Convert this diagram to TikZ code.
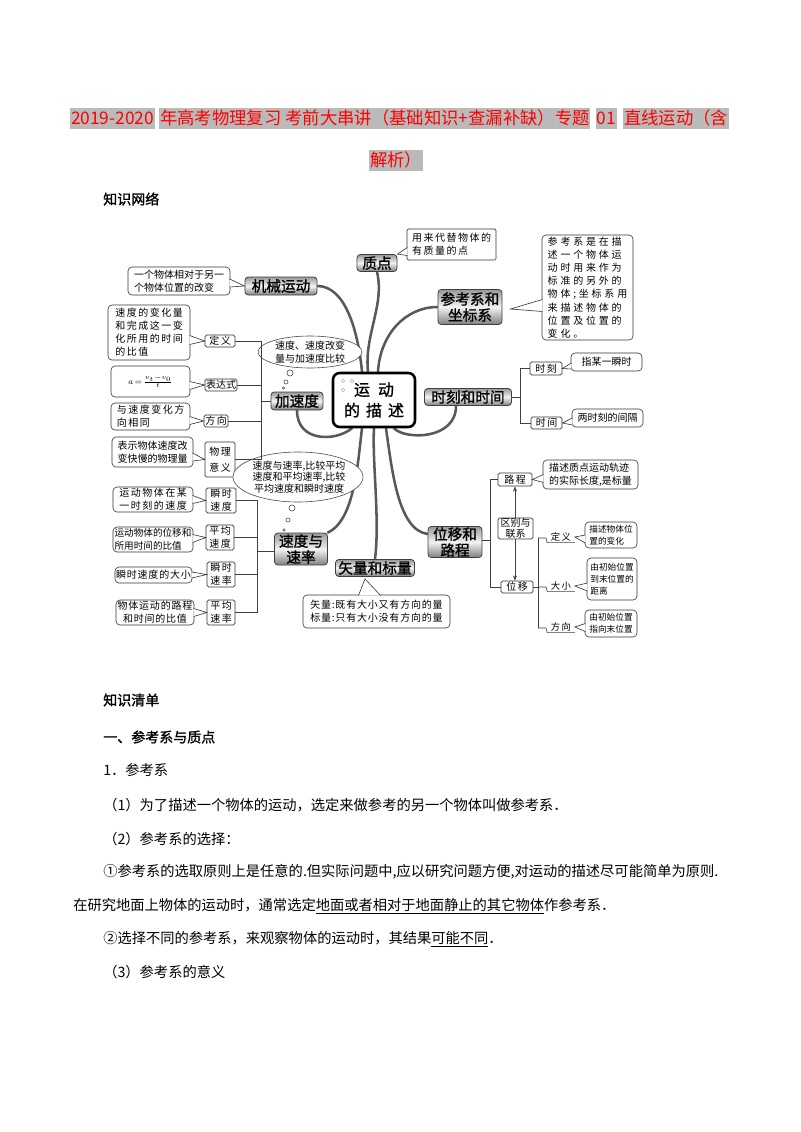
\documentclass[tikz,border=0pt]{standalone}
\usepackage{fontspec}
\setmainfont{Noto Sans CJK SC}
\newfontfamily\cjkB{Noto Sans CJK SC}[FakeBold=1.2]
\newfontfamily\cjkS{Noto Sans CJK SC}[LetterSpace=15]
\newfontfamily\cjkT{Noto Sans CJK SC}[LetterSpace=8]
\newfontfamily\cjkW{Noto Sans CJK SC}[LetterSpace=28]
\usetikzlibrary{calc,backgrounds,arrows.meta,shapes.geometric}
\newcommand\fTt{\fontsize{13}{16}\selectfont}
\newcommand\fSm{\cjkS\fontsize{7.5}{9.8}\selectfont}
\newcommand\fSt{\cjkT\fontsize{7.5}{9.8}\selectfont}
\newcommand\fSn{\fontsize{7.5}{9.8}\selectfont}
\newcommand\fTn{\fontsize{6.5}{8.8}\selectfont}
\newcommand\fW{\cjkW\fontsize{7.5}{9.9}\selectfont}
\newcommand\fTp{\cjkB\fontsize{11}{12}\selectfont}
\newcommand\fCt{\cjkB\fontsize{12}{15.5}\selectfont}
\newcommand\fBd{\fontsize{10.7}{13}\selectfont}
\newcommand\fHd{\cjkB\fontsize{10.5}{13}\selectfont}
\newcommand\tailE[4]{\filldraw[tail] ($(#1.east)+(-0.7,#2)$) -- (#4) -- ($(#1.east)+(-0.7,#3)$);}
\newcommand\tailW[4]{\filldraw[tail] ($(#1.west)+(0.7,#2)$) -- (#4) -- ($(#1.west)+(0.7,#3)$);}
\newcommand\tailN[4]{\filldraw[tail] ($(#1.north)+(#2,0.7)$) -- (#4) -- ($(#1.north)+(#3,0.7)$);}
\begin{document}
\begin{tikzpicture}[x=0.75pt,y=-0.75pt,
  sz/.style 2 args={minimum width=#1*0.75pt, minimum height=#2*0.75pt},
  ttl/.style={fill=black!27, text=red, inner xsep=0.6pt, inner ysep=0pt, text height=12pt, text depth=3.5pt, font=\fTt, anchor=base west},
  topic/.style={draw=black!75, line width=0.6pt, rounded corners=2.5pt, top color=black!40, bottom color=black!50, middle color=black!5, font=\fTp, align=center, inner sep=0pt},
  note/.style={draw=black!80, line width=0.45pt, rounded corners=3pt, fill=white, font=\fSm, align=left, inner sep=0pt},
  lbl/.style={draw=black!80, line width=0.45pt, rounded corners=1.2pt, fill=white, font=\fSm, align=center, inner sep=0pt},
  ul/.style={font=\cjkS\fontsize{7}{8}\selectfont, inner xsep=0pt, inner ysep=0.8pt, minimum width=27*0.75pt},
  link/.style={draw=black!75, line width=0.45pt},
  tail/.style={fill=white, draw=black!80, line width=0.45pt},
  branch/.style={draw=black!65, line width=1.9pt, line cap=round},
  bubble/.style={draw=black!70, line width=0.45pt, fill=white},
  txt/.style={inner sep=0pt, anchor=west, font=\fBd}]
\useasboundingbox (0,0) rectangle (800,1132);

% ---------- title ----------
\node[ttl] (t1) at (70,124) {2019-2020};
\node[ttl] (t2) at ($(t1.base east)+(4,0)$) {年高考物理复习 考前大串讲（基础知识+查漏补缺）专题};
\node[ttl] (t3) at ($(t2.base east)+(5,0)$) {01};
\node[ttl] (t4) at ($(t3.base east)+(6,0)$) {直线运动（含};
\node[ttl, anchor=base] (t5) at (396,166) {解析）};

\node[txt, font=\fHd] (h1) at (103,199) {知识网络};

% ---------- mind map: topics ----------
\node[topic, sz={40}{17}] (zhidian) at (377,263) {质点};
\node[topic, sz={64}{35}] (cankao) at (470,307) {参考系和\\坐标系};
\node[topic, sz={72}{18}] (jixie) at (281,286) {机械运动};
\node[topic, sz={52}{18}] (jiasudu) at (297,401) {加速度};
\node[topic, sz={87}{17}] (shike) at (468,397) {时刻和时间};
\node[topic, sz={53}{32}] (sudu) at (301,549) {速度与\\速率};
\node[topic, sz={79}{17}] (shiliang) at (375,568) {矢量和标量};
\node[topic, sz={54}{31}] (weiyi) at (455,542) {位移和\\路程};

\node[draw=black, line width=1.9pt, rounded corners=5pt, fill=white, sz={82}{54}, inner sep=0pt, align=center, font=\fCt] (ctr) at (374,400) {运\hspace{6pt}动\\的\hspace{4.5pt}描\hspace{4.5pt}述};
\draw[black!30, line width=0.4pt] (343,381) circle (1.3pt) (352,381) circle (1.3pt) (343,390) circle (1.3pt);

% ---------- left notes ----------
\node[note, sz={102}{28}, font=\fSn] (nJx) at (179,281) {一个物体相对于另一\\个物体位置的改变};
\node[note, sz={82}{55}] (nDy) at (149,332.5) {速度的变化量\\和完成这一变\\化所用的时间\\的比值};
\node[note, sz={79}{31}] (nBd) at (150.5,381.5) {\fontsize{6}{7}\selectfont $a\!=\!\frac{v_t-v_0}{t}$};
\node[note, sz={79}{27}] (nFx) at (150.5,416.5) {与速度变化方\\向相同};
\node[note, sz={81}{30}, font=\fSn] (nYy) at (152.5,452) {表示物体速度改\\变快慢的物理量};
\node[note, sz={80}{25}] (nSss) at (153,499.5) {运动物体在某\\一时刻的速度};
\node[note, sz={80}{25}, font=\fontsize{7.2}{9.6}\selectfont] (nPjsd) at (153,539.5) {运动物体的位移和\\所用时间的比值};
\node[note, sz={77}{16}, font=\fSt] (nSssl) at (153.5,575) {瞬时速度的大小};
\node[note, sz={78}{25}, font=\fSt, align=center] (nPjsl) at (155,612.5) {物体运动的路程\\和时间的比值};

\node[lbl, sz={30}{12}] (lDy) at (220,341) {定义};
\node[lbl, sz={32}{12}, font=\fSn] (lBd) at (221,385) {表达式};
\node[lbl, sz={24}{12}] (lFx) at (216,421) {方向};
\node[lbl, sz={30}{35}] (lYy) at (220,459.5) {物理\\[2pt]意义};
\node[lbl, sz={30}{25}] (lSss) at (221,500.5) {瞬时\\速度};
\node[lbl, sz={28}{25}] (lPjsd) at (220,537.5) {平均\\速度};
\node[lbl, sz={28}{25}] (lSssl) at (221,574.5) {瞬时\\速率};
\node[lbl, sz={28}{25}] (lPjsl) at (221,612.5) {平均\\速率};

% thought bubbles
\node[bubble, ellipse, sz={104}{32}, inner sep=0pt] (bA) at (310,352) {};
\node[font=\fSn, align=center, inner sep=0pt] (bAt) at (bA) {速度、速度改变\\量与加速度比较};
\draw[bubble] (290,373) circle (2.3pt) (286,382) circle (1.5pt) (283.5,388) circle (0.9pt);
\node[bubble, ellipse, sz={130}{50}, inner sep=0pt] (bB) at (298,477) {};
\node[font=\fontsize{7.5}{8.4}\selectfont, align=center, inner sep=0pt] (bBt) at (299,477) {速度与速率,比较平均\\速度和平均速率,比较\\平均速度和瞬时速度};
\draw[bubble] (292,508) circle (2.3pt) (288,520) circle (1.5pt) (284,530) circle (0.9pt);

% ---------- right notes ----------
\node[note, sz={89}{31}, rounded corners=1pt] (nZd) at (451.5,244.5) {用来代替物体的\\有质量的点};
\node[note, sz={91}{105}, font=\fW] (nCk) at (587.5,287.5) {参考系是在描\\述一个物体运\\动时用来作为\\标准的另外的\\物体;坐标系用\\来描述物体的\\位置及位置的\\变化。};

\node[lbl, sz={32}{13}] (lSk) at (546,368.5) {时刻};
\node[lbl, sz={31}{12}] (lSj) at (546.5,423) {时间};
\node[note, sz={71}{18}, font=\fSn] (nSk) at (606.5,362) {指某一瞬时};
\node[note, sz={71}{18}, font=\fSn] (nSj) at (607.5,418) {两时刻的间隔};

\node[lbl, sz={34}{13}] (lLc) at (515,479.5) {路程};
\node[note, sz={95}{29}, font=\fSn] (nLc) at (590.5,474.5) {描述质点运动轨迹\\的实际长度,是标量};
\node[lbl, sz={32}{12}] (lWy) at (517,587) {位移};

\node[ul] (uDy) at (561,537) {定义};
\node[ul] (uDx) at (561,586) {大小};
\node[ul] (uFx) at (561,627) {方向};
\node[note, sz={52}{26}, font=\fTn] (nDy2) at (611,535) {描述物体位\\置的变化};
\node[note, sz={50}{42}, font=\fTn] (nDx2) at (612,579) {由初始位置\\到末位置的\\距离};
\node[note, sz={52}{27}, font=\fTn] (nFx2) at (611,623.5) {由初始位置\\指向末位置};

\node[note, sz={147}{33}, font=\fSt] (nSl) at (376.5,611.5) {矢量:既有大小又有方向的量\\标量:只有大小没有方向的量};

% ---------- connectors ----------
\coordinate (ja) at (261,401);
\draw[link] (jiasudu.west) -- (ja);
\draw[link] (lDy.east) -| (ja);
\draw[link] (lBd.east) -| (ja);
\draw[link] (lFx.east) -| (ja);
\draw[link] (lYy.east) -| (ja);

\coordinate (sa) at (257,551);
\draw[link] (sudu.west |- sa) -- (sa);
\draw[link] (lSss.east) -| (sa);
\draw[link] (lPjsd.east) -| (sa);
\draw[link] (lSssl.east) -| (sa);
\draw[link] (lPjsl.east) -| (sa);

\coordinate (tj) at (520,397);
\draw[link] (shike.east) -- (tj);
\draw[link] (tj) |- (lSk.west);
\draw[link] (tj) |- (lSj.west);

\coordinate (wj) at (490,540);
\draw[link] (weiyi.east |- wj) -- (wj);
\draw[link] (wj) |- (lLc.west);
\draw[link] (wj) |- (lWy.west);

\draw[link, {Stealth[length=4pt,width=3pt]}-{Stealth[length=4pt,width=3pt]}] (lLc.south) -- (lLc.south |- lWy.north);
\node[lbl, sz={35}{21}, font=\fontsize{7.5}{8.6}\selectfont] (lQb) at (515.5,528.5) {区别与\\联系};

\coordinate (sj) at (538,587);
\draw[link] (lWy.east) -- (sj);
\draw[link] (538,538) -- (538,628);
\draw[link] (538,538) -- (546,538) -- (uDy.south west) -- (uDy.south east);
\draw[link] (sj) -- (546,587) -- (uDx.south west) -- (uDx.south east);
\draw[link] (538,628) -- (546,628) -- (uFx.south west) -- (uFx.south east);

% tails
\tailE{nJx}{-2}{6}{jixie.west}
\tailE{nDy}{3}{12}{lDy.west}
\tailE{nBd}{0}{8}{lBd.west}
\tailE{nFx}{0}{8}{lFx.west}
\tailE{nYy}{1}{9}{lYy.west}
\tailE{nSss}{-4}{4}{lSss.west}
\tailE{nPjsd}{-5}{3}{lPjsd.west}
\tailE{nSssl}{-3}{3}{lSssl.west}
\tailE{nPjsl}{-4}{4}{lPjsl.west}
\tailW{nZd}{3}{11}{zhidian.north east}
\tailW{nCk}{12}{24}{$(cankao.east)+(8,2)$}
\tailW{nSk}{1}{7}{lSk.east}
\tailW{nSj}{0}{7}{lSj.east}
\tailW{nLc}{0}{8}{lLc.east}
\tailW{nDy2}{0}{8}{uDy.east}
\tailW{nDx2}{4}{12}{uDx.east}
\tailW{nFx2}{0}{8}{uFx.east}
\tailN{nSl}{-18}{4}{$(shiliang.south)+(-10,2)$}

% ---------- body text ----------
\node[txt, font=\fHd] (k1) at (103,700) {知识清单};
\node[txt, font=\fHd] (k2) at (103,737) {一、参考系与质点};
\node[txt] (k3) at (103,770) {1．参考系};
\node[txt] (k4) at (103,805) {（1）为了描述一个物体的运动，选定来做参考的另一个物体叫做参考系．};
\node[txt] (k5) at (103,839) {（2）参考系的选择：};
\node[txt] (k6) at (103,872) {①参考系的选取原则上是任意的.但实际问题中,应以研究问题方便,对运动的描述尽可能简单为原则.};
\node[txt] (k7) at (73,906) {在研究地面上物体的运动时，通常选定\underline{地面或者相对于地面静止的其它物体}作参考系．};
\node[txt] (k8) at (103,939) {②选择不同的参考系，来观察物体的运动时，其结果\underline{可能不同}．};
\node[txt] (k9) at (103,972) {（3）参考系的意义};

% ---------- background: page and main branches ----------
\begin{pgfonlayer}{background}
\fill[white] (0,0) rectangle (800,1132);
\draw[branch] (zhidian.south) .. controls (385,305) and (364,335) .. ($(ctr.north)+(-6,0)$);
\draw[branch] (jixie.east) .. controls (345,286) and (358,330) .. ($(ctr.north)+(-12,0)$);
\draw[branch] (cankao.west) .. controls (405,307) and (380,335) .. ($(ctr.north)+(4,0)$);
\draw[branch] (jiasudu.south) .. controls (297,442) and (335,442) .. ($(ctr.south)+(-22,0)$);
\draw[branch] ($(shike.south)+(-12,0)$) .. controls (456,440) and (405,440) .. ($(ctr.south)+(20,0)$);
\draw[branch] (sudu.north east) .. controls (355,520) and (358,460) .. ($(ctr.south)+(-12,0)$);
\draw[branch] (shiliang.north) .. controls (380,520) and (372,460) .. (ctr.south);
\draw[branch] ($(weiyi.west)+(0,-8)$) .. controls (398,530) and (392,470) .. ($(ctr.south)+(12,0)$);
\end{pgfonlayer}
\end{tikzpicture}
\end{document}
